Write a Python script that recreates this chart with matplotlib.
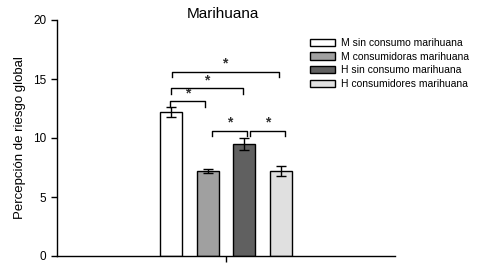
import matplotlib
matplotlib.use("Agg")
import matplotlib.pyplot as plt

plt.rcParams['font.family'] = ['Liberation Sans', 'DejaVu Sans']

categories = ["M sin consumo marihuana", "M consumidoras marihuana",
              "H sin consumo marihuana", "H consumidores marihuana"]
values = [12.2, 7.2, 9.5, 7.2]
errors = [0.4, 0.2, 0.5, 0.43]
colors = ["#ffffff", "#a0a0a0", "#606060", "#e0e0e0"]
yticks = [0, 5, 10, 15, 20]
title = "Marihuana"
ylabel = "Percepción de riesgo global"
# significance brackets: (left bar, right bar, height)
brackets = [(0, 1, 13.1), (0, 2, 14.2), (0, 3, 15.6), (1, 2, 10.6), (2, 3, 10.6)]
bracket_offsets = [(-0.03, -0.08), (0.0, -0.05), (0.02, -0.07), (0.11, 0.08), (0.15, 0.1)]

fig = plt.figure(figsize=(4.84, 2.63), dpi=100)
ax = fig.add_axes([57/484, 7/263, 338/484, 236/263])

xs = list(range(len(values)))
for x, v, e, c, lab in zip(xs, values, errors, colors, categories):
    ax.bar(x, v, width=0.6, color=c, edgecolor='black', linewidth=1, label=lab, zorder=2)
    ax.errorbar(x, v, yerr=e, color='black', capsize=3.5, elinewidth=1, capthick=1, zorder=3)

for (i, j, h), (oi, oj) in zip(brackets, bracket_offsets):
    x1, x2 = xs[i] + oi, xs[j] + oj
    ax.plot([x1, x1, x2, x2], [h - 0.45, h, h, h - 0.45], color='black', lw=1, zorder=3)
    ax.text((x1 + x2) / 2, h + 0.1, "*", ha='center', va='bottom', fontsize=10,
            fontweight='bold', color='#303030')

ax.set_xlim(-3.1, 6.1)
ax.set_ylim(0, 20)
ax.set_yticks(yticks)
ax.set_yticklabels([str(t) for t in yticks], fontsize=8.5)
ax.set_xticks([1.5])
ax.set_xticklabels([""])
ax.tick_params(axis='both', direction='out', length=4, width=1, colors='black')
ax.spines['top'].set_visible(False)
ax.spines['right'].set_visible(False)
ax.spines['left'].set_linewidth(1)
ax.spines['bottom'].set_linewidth(1)
ax.set_ylabel(ylabel, fontsize=9.5)
ax.yaxis.set_label_coords((26 - 57) / 338, 0.5)
fig.text(223/484, 1 - 14/263, title, ha='center', va='center', fontsize=11)

fig.legend(loc='upper left', bbox_to_anchor=(310/484, 1 - 38/263), frameon=False,
           fontsize=7.5, handlelength=2.4, handleheight=0.7, handletextpad=0.6,
           labelspacing=0.35, borderpad=0, borderaxespad=0)

fig.savefig("out.png", dpi=100)
